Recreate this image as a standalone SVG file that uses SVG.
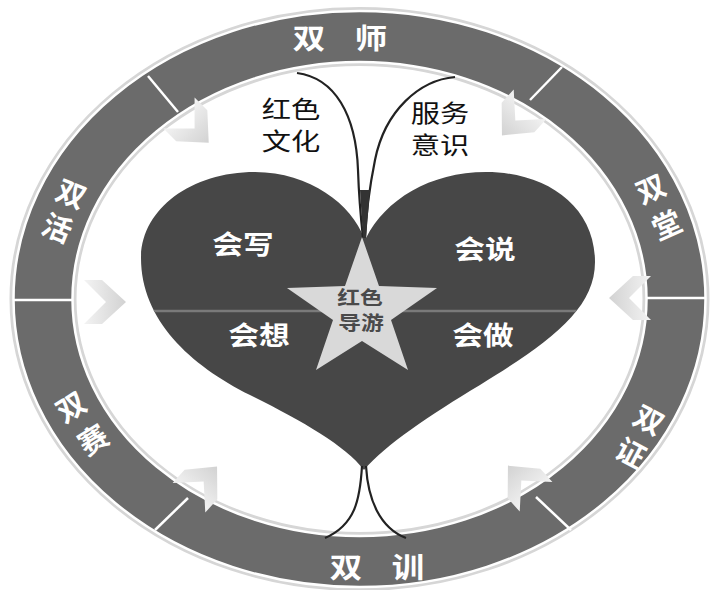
<svg xmlns="http://www.w3.org/2000/svg" width="713" height="590" viewBox="0 0 713 590">
<defs>
<style>
.ring-t{font-family:"Noto Sans CJK SC","Noto Sans",sans-serif;font-weight:700;font-size:29px;fill:#ffffff;text-anchor:middle;dominant-baseline:central}
.heart-t{font-family:"Noto Sans CJK SC","Noto Sans",sans-serif;font-weight:700;font-size:26px;fill:#ffffff;text-anchor:middle;dominant-baseline:central}
.star-t{font-family:"Noto Sans CJK SC","Noto Sans",sans-serif;font-weight:700;font-size:19px;fill:#4a4a4a;text-anchor:middle;dominant-baseline:central}
.stem-t{font-family:"Liberation Serif","Noto Sans CJK SC",serif;font-size:24px;fill:#111111;text-anchor:middle;dominant-baseline:central}
.div{stroke:#ffffff;stroke-width:2.5}
.stem{fill:none;stroke:#222222;stroke-width:2.2}
.chev{fill:url(#chevg)}
</style>
<linearGradient id="chevg" x1="0" y1="0" x2="1" y2="0">
<stop offset="0" stop-color="#f3f3f3"/>
<stop offset="1" stop-color="#d2d2d2"/>
</linearGradient>
<polygon id="chevron" points="-24,-22 -6,-22 18,0 -6,22 -24,22 -2,0"/>
<clipPath id="heartclip">
<path d="M364,238 C352,205 310,172 255,172 C190,172 141,210 141,258 C141,320 190,365 250,395 C300,420 345,445 364,470 C385,445 430,415 480,385 C548,343 595,310 595,262 C595,205 545,172 486,172 C430,172 385,200 366,238 Z"/>
</clipPath>
</defs>
<rect width="713" height="590" fill="#ffffff"/>

<g id="ring">
<ellipse cx="359.5" cy="299" rx="348" ry="290" fill="none" stroke="#d6d6d6" stroke-width="4"/>
<ellipse cx="359.5" cy="299" rx="285" ry="235" fill="none" stroke="#d6d6d6" stroke-width="4"/>
<path d="M13.5,299 A346,288 0 1,0 705.5,299 A346,288 0 1,0 13.5,299 Z M72.5,299 A287,237 0 1,0 646.5,299 A287,237 0 1,0 72.5,299 Z" fill="#6b6b6b" fill-rule="evenodd" stroke="#ffffff" stroke-width="2.5"/>
<line class="div" x1="148" y1="76" x2="178" y2="112"/>
<line class="div" x1="562" y1="67" x2="530" y2="100"/>
<line class="div" x1="13" y1="300" x2="73" y2="300"/>
<line class="div" x1="646" y1="298" x2="706" y2="298"/>
<line class="div" x1="188" y1="498" x2="155" y2="530"/>
<line class="div" x1="536" y1="497" x2="571" y2="530"/>
</g>

<g id="seg-shuangshi">
<text class="ring-t" transform="translate(309,36) scale(1.12,1)">双</text>
<text class="ring-t" transform="translate(371,36) scale(1.12,1)">师</text>
</g>
<g id="seg-shuangtang">
<text class="ring-t" transform="translate(650,187) rotate(-24)">双</text>
<text class="ring-t" transform="translate(666,223) rotate(-24)">堂</text>
</g>
<g id="seg-shuangzheng">
<text class="ring-t" transform="translate(650,418) rotate(28)">双</text>
<text class="ring-t" transform="translate(632,451) rotate(28)">证</text>
</g>
<g id="seg-shuangxun">
<text class="ring-t" transform="translate(346,565) scale(1.12,1)">双</text>
<text class="ring-t" transform="translate(408,565) scale(1.12,1)">训</text>
</g>
<g id="seg-shuangsai">
<text class="ring-t" transform="translate(70,405) rotate(-32)">双</text>
<text class="ring-t" transform="translate(92,438) rotate(-32)">赛</text>
</g>
<g id="seg-shuanghuo">
<text class="ring-t" transform="translate(72,192) rotate(22)">双</text>
<text class="ring-t" transform="translate(58,226) rotate(22)">活</text>
</g>

<g id="chevrons">
<use href="#chevron" class="chev" transform="translate(108,302)"/>
<use href="#chevron" class="chev" transform="translate(627,298) rotate(180)"/>
<use href="#chevron" class="chev" transform="translate(196,130) rotate(45)"/>
<use href="#chevron" class="chev" transform="translate(514,122) rotate(132)"/>
<use href="#chevron" class="chev" transform="translate(205,480) rotate(-48)"/>
<use href="#chevron" class="chev" transform="translate(520,479) rotate(-132)"/>
</g>

<g id="heart">
<path d="M364,238 C352,205 310,172 255,172 C190,172 141,210 141,258 C141,320 190,365 250,395 C300,420 345,445 364,470 C385,445 430,415 480,385 C548,343 595,310 595,262 C595,205 545,172 486,172 C430,172 385,200 366,238 Z" fill="#474747"/>
<line x1="130" y1="311" x2="610" y2="311" stroke="#7a7a7a" stroke-width="2.5" clip-path="url(#heartclip)"/>
</g>

<g id="connectors">
<path class="stem" d="M297,73 C335,78 356,115 358,170 C359,200 361,220 363,238"/>
<path class="stem" d="M455,77 C420,80 385,110 375,160 C369,190 366,215 365,238"/>
<polygon points="360,190 370,190 366,238 363,238" fill="#333333"/>
<path class="stem" d="M362,466 C360,500 355,525 325,538"/>
<path class="stem" d="M366,466 C368,500 380,528 406,538"/>
</g>

<g id="star">
<polygon points="362,237 379,286 437,288 391,320 408,370 362,341 316,370 333,320 287,288 345,286" fill="#d9d9d9"/>
<text class="star-t" transform="translate(360,297) scale(1.2,1)">红色</text>
<text class="star-t" transform="translate(361,322) scale(1.2,1)">导游</text>
</g>

<g id="node-huixie"><text class="heart-t" transform="translate(243,243) scale(1.18,1)">会写</text></g>
<g id="node-huishuo"><text class="heart-t" transform="translate(485,248) scale(1.18,1)">会说</text></g>
<g id="node-huixiang"><text class="heart-t" transform="translate(259,334) scale(1.18,1)">会想</text></g>
<g id="node-huizuo"><text class="heart-t" transform="translate(483,334) scale(1.18,1)">会做</text></g>

<g id="label-hongse">
<text class="stem-t" transform="translate(291,110) scale(1.22,1)">红色</text>
<text class="stem-t" transform="translate(291,142) scale(1.22,1)">文化</text>
</g>
<g id="label-fuwu">
<text class="stem-t" transform="translate(440,114) scale(1.22,1)">服务</text>
<text class="stem-t" transform="translate(440,146) scale(1.22,1)">意识</text>
</g>
</svg>
